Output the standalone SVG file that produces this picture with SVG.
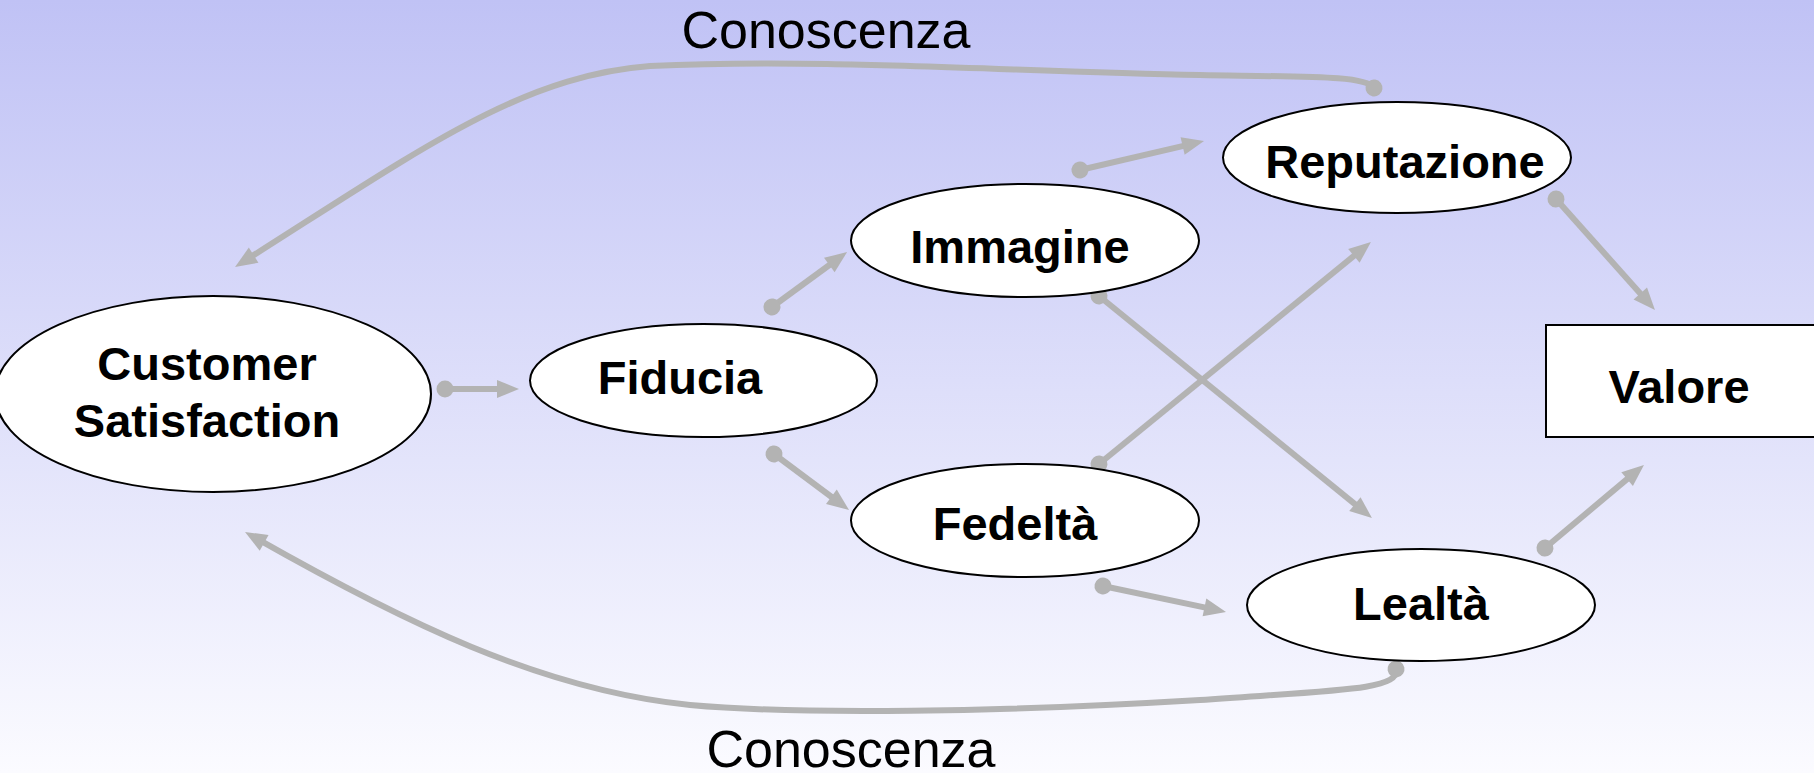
<svg xmlns="http://www.w3.org/2000/svg" width="1814" height="773" viewBox="0 0 1814 773">
  <defs>
    <linearGradient id="bg" x1="0" y1="0" x2="0" y2="1">
      <stop offset="0" stop-color="#c0c2f5"/>
      <stop offset="1" stop-color="#fbfbff"/>
    </linearGradient>
    <marker id="arrow" markerUnits="userSpaceOnUse" markerWidth="22" markerHeight="18" refX="12" refY="9" orient="auto" overflow="visible">
      <path d="M0,0 L22,9 L0,18 Z" fill="#b3b3b3"/>
    </marker>
    <marker id="dot" markerUnits="userSpaceOnUse" markerWidth="18" markerHeight="18" refX="9" refY="9" orient="auto" overflow="visible">
      <circle cx="9" cy="9" r="8.5" fill="#b3b3b3"/>
    </marker>
  </defs>
  <style>
    .node { fill: #ffffff; stroke: #000000; stroke-width: 2; }
    .label { font-family: "Liberation Sans", Arial, sans-serif; font-weight: bold; font-size: 47px; fill: #000000; text-anchor: middle; }
    .note { font-family: "Liberation Sans", Arial, sans-serif; font-size: 52px; fill: #000000; text-anchor: middle; }
    .link { fill: none; stroke: #b3b3b3; stroke-width: 6; marker-start: url(#dot); marker-end: url(#arrow); }
  </style>

  <rect x="0" y="0" width="1814" height="773" fill="url(#bg)"/>

  <!-- connectors -->
  <g id="connectors">
    <line class="link" x1="445" y1="389" x2="509" y2="389"/>
    <line class="link" x1="772" y1="307" x2="839" y2="258"/>
    <line class="link" x1="774" y1="454" x2="841" y2="504"/>
    <line class="link" x1="1080" y1="170" x2="1194.3" y2="143.3"/>
    <line class="link" x1="1556" y1="199" x2="1648.3" y2="302.5"/>
    <line class="link" x1="1545" y1="548" x2="1636.3" y2="471.4"/>
    <line class="link" x1="1099" y1="464" x2="1363.2" y2="248.3"/>
    <line class="link" x1="1099" y1="296" x2="1364.2" y2="511.7"/>
    <line class="link" x1="1103" y1="586" x2="1216.2" y2="609.9"/>
    <path class="link" d="M1374,88 C1365,76 1320,77 1200,75 C1000,71 820,58 650,66 C520,76 420,150 243.5,261.6"/>
    <path class="link" d="M1396,669 C1400,690 1340,690 1200,700 C1000,712 800,715 690,705 C540,690 400,620 253.7,536.9"/>
  </g>

  <text class="note" x="826" y="48">Conoscenza</text>
  <text class="note" x="851" y="767">Conoscenza</text>

  <g id="customer-satisfaction">
    <ellipse class="node" cx="213" cy="394" rx="218" ry="98"/>
    <text class="label" x="207" y="380">Customer</text>
    <text class="label" x="207" y="437">Satisfaction</text>
  </g>

  <g id="fiducia">
    <ellipse class="node" cx="703.5" cy="380.5" rx="173.5" ry="56.5"/>
    <text class="label" x="680" y="394">Fiducia</text>
  </g>

  <g id="immagine">
    <ellipse class="node" cx="1025" cy="240.5" rx="174" ry="56.5"/>
    <text class="label" x="1020" y="263">Immagine</text>
  </g>

  <g id="fedelta">
    <ellipse class="node" cx="1025" cy="520.5" rx="174" ry="56.5"/>
    <text class="label" x="1015" y="540">Fedeltà</text>
  </g>

  <g id="reputazione">
    <ellipse class="node" cx="1397" cy="157.5" rx="174" ry="55.5"/>
    <text class="label" x="1405" y="178">Reputazione</text>
  </g>

  <g id="lealta">
    <ellipse class="node" cx="1421" cy="605" rx="174" ry="56"/>
    <text class="label" x="1421" y="620">Lealtà</text>
  </g>

  <g id="valore">
    <rect class="node" x="1546" y="325" width="280" height="112"/>
    <text class="label" x="1679" y="403">Valore</text>
  </g>
</svg>
